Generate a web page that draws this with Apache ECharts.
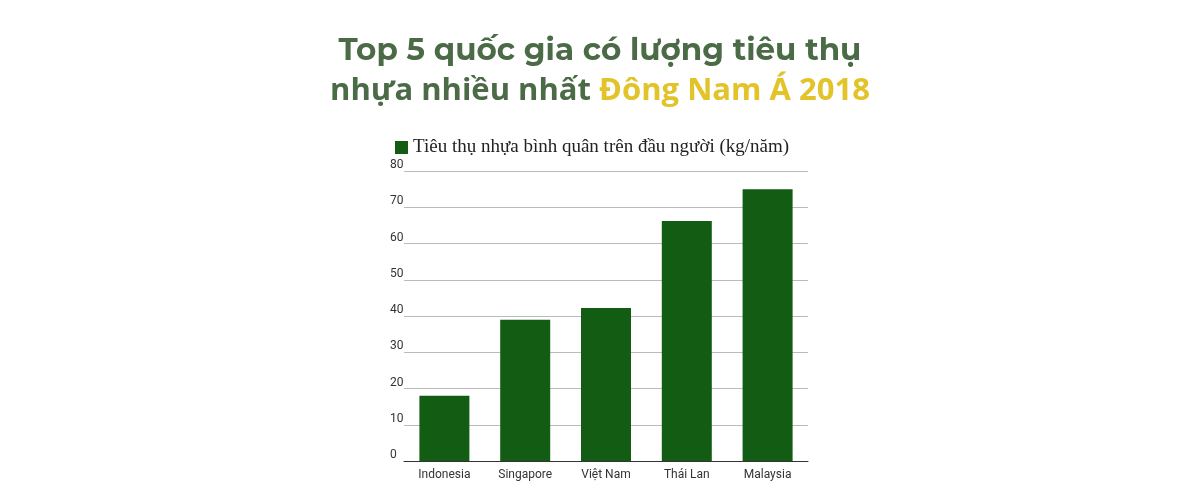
<!DOCTYPE html>
<html><head><meta charset="utf-8">
<script src="https://cdn.jsdelivr.net/npm/echarts@6/dist/echarts.min.js"></script>
<style>html,body{margin:0;padding:0;background:#fff}#c{width:1200px;height:504px}</style>
</head><body><div id="c"></div>
<script>
const categories = ['Indonesia','Singapore','Việt Nam','Thái Lan','Malaysia'];
const values = [18, 39, 42.2, 66.2, 75];
const seriesName = 'Tiêu thụ nhựa bình quân trên đầu người (kg/năm)';
const chart = echarts.init(document.getElementById('c'));
chart.setOption({
  animation:false,
  title:{left:'center',top:26,text:'Top 5 quốc gia có lượng tiêu thụ\n{a|nhựa nhiều nhất }{b|Đông Nam Á 2018}',
    textStyle:{fontFamily:'Montserrat, "Open Sans", sans-serif',fontSize:31,fontWeight:'bold',color:'#4b6b47',lineHeight:40,
      rich:{a:{fontFamily:'"Open Sans", sans-serif',fontSize:31,fontWeight:'bold',color:'#4b6b47',lineHeight:40},
            b:{fontFamily:'"Open Sans", sans-serif',fontSize:31,fontWeight:'bold',color:'#e3c32a',lineHeight:40}}}},
  legend:{left:390,top:133,itemWidth:13,itemHeight:13,icon:'rect',
    textStyle:{fontFamily:'"Liberation Serif", serif',fontSize:19,color:'#222'}},
  grid:{left:404,right:392,top:171,bottom:43},
  xAxis:{type:'category',data:categories,
    axisLine:{lineStyle:{color:'#333'}},axisTick:{show:false},
    axisLabel:{fontFamily:'Roboto, sans-serif',fontSize:12,color:'#333',margin:8}},
  yAxis:{type:'value',min:0,max:80,interval:10,
    axisLine:{show:false},axisTick:{show:false},
    splitLine:{lineStyle:{color:'#bbb'}},
    axisLabel:{align:'left',verticalAlign:'bottom',margin:14,fontFamily:'Roboto, sans-serif',fontSize:12,color:'#333'}},
  series:[{name:seriesName,type:'bar',data:values,barWidth:50,itemStyle:{color:'#125c14'}}]
});
</script></body></html>
